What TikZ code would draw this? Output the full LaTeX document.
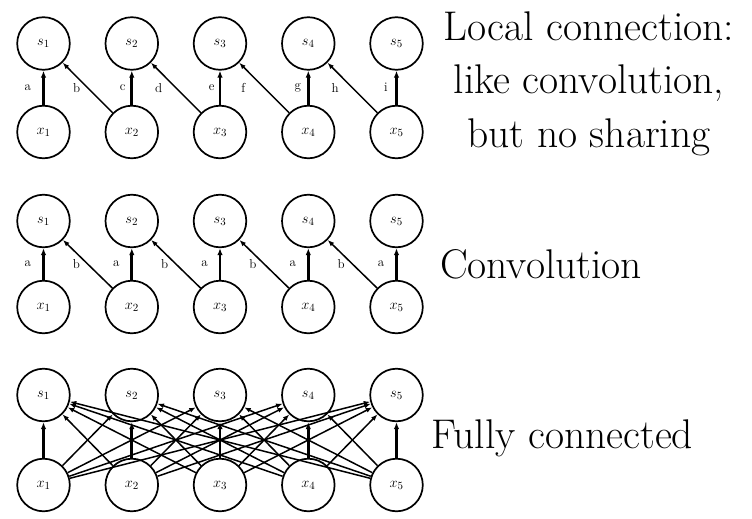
\documentclass[tikz,border=0pt]{standalone}
\usepackage{amsmath, amssymb}
\usepackage{tikz}
\usetikzlibrary{positioning, arrows.meta}

\begin{document}
\begin{tikzpicture}[x=1pt,y=-1pt]
	\tikzstyle{vertex}=[circle,draw=black,line width=1.7pt,minimum size=52.6pt,inner sep=0pt,font=\fontsize{15}{17}\selectfont]
	\tikzstyle{wide}=[line width=2.7pt,-{Latex[length=7pt,width=5.5pt]}]
	\tikzstyle{narrow}=[line width=1.5pt,-{Latex[length=6.5pt,width=5pt]}]
	\tikzstyle{vlbl}=[left=7.7pt,font=\fontsize{13}{15}\selectfont]
	\tikzstyle{dlbl}=[left=3.7pt,font=\fontsize{13}{15}\selectfont]
	\tikzstyle{caption}=[font=\fontsize{41.5}{53.5}\selectfont,align=center,anchor=base]
	\useasboundingbox (0,0) rectangle (752,519);

	% local connection
	\node[vertex](ls1) at (43.5,43.5) {$s_1$};
	\node[vertex](ls2) at (131.8,43.5) {$s_2$};
	\node[vertex](ls3) at (220,43.5) {$s_3$};
	\node[vertex](ls4) at (308.3,43.5) {$s_4$};
	\node[vertex](ls5) at (396.5,43.5) {$s_5$};
	\node[vertex](lx1) at (43.5,132) {$x_1$};
	\node[vertex](lx2) at (131.8,132) {$x_2$};
	\node[vertex](lx3) at (220,132) {$x_3$};
	\node[vertex](lx4) at (308.3,132) {$x_4$};
	\node[vertex](lx5) at (396.5,132) {$x_5$};
	\path
		(lx1) edge[wide] node[vlbl] {a}(ls1)
		(lx2) edge[narrow] node[dlbl,left=3.3pt] {b}(ls1)
		(lx2) edge[wide] node[vlbl,left=1.7pt] {c}(ls2)
		(lx3) edge[narrow] node[dlbl,left=9.7pt] {d}(ls2)
		(lx3) edge[wide] node[vlbl,left=0.7pt] {e}(ls3)
		(lx4) edge[narrow] node[dlbl,left=14.7pt] {f}(ls3)
		(lx4) edge[wide] node[vlbl,left=2.7pt] {g}(ls4)
		(lx5) edge[narrow] node[dlbl,left=9.7pt] {h}(ls4)
		(lx5) edge[wide] node[vlbl,left=4.2pt] {i}(ls5);
	\node[caption](ltext) at (589,147) {Local connection:\\like convolution,\\but no sharing};

	% convolution
	\node[vertex](cs1) at (43.5,221) {$s_1$};
	\node[vertex](cs2) at (131.8,221) {$s_2$};
	\node[vertex](cs3) at (220,221) {$s_3$};
	\node[vertex](cs4) at (308.3,221) {$s_4$};
	\node[vertex](cs5) at (396.5,221) {$s_5$};
	\node[vertex](cx1) at (43.5,307) {$x_1$};
	\node[vertex](cx2) at (131.8,307) {$x_2$};
	\node[vertex](cx3) at (220,307) {$x_3$};
	\node[vertex](cx4) at (308.3,307) {$x_4$};
	\node[vertex](cx5) at (396.5,307) {$x_5$};
	\path
		(cx1) edge[wide] node[vlbl] {a}(cs1)
		(cx2) edge[narrow] node[dlbl] {b}(cs1)
		(cx2) edge[wide] node[vlbl] {a}(cs2)
		(cx3) edge[narrow] node[dlbl] {b}(cs2)
		(cx3) edge[wide] node[vlbl] {a}(cs3)
		(cx4) edge[narrow] node[dlbl] {b}(cs3)
		(cx4) edge[wide] node[vlbl] {a}(cs4)
		(cx5) edge[narrow] node[dlbl] {b}(cs4)
		(cx5) edge[wide] node[vlbl] {a}(cs5);
	\node[caption](ctext) at (541,278) {Convolution};

	% fully connected
	\node[vertex](fs1) at (43.5,395) {$s_1$};
	\node[vertex](fs2) at (131.8,395) {$s_2$};
	\node[vertex](fs3) at (220,395) {$s_3$};
	\node[vertex](fs4) at (308.3,395) {$s_4$};
	\node[vertex](fs5) at (396.5,395) {$s_5$};
	\node[vertex](fx1) at (43.5,485) {$x_1$};
	\node[vertex](fx2) at (131.8,485) {$x_2$};
	\node[vertex](fx3) at (220,485) {$x_3$};
	\node[vertex](fx4) at (308.3,485) {$x_4$};
	\node[vertex](fx5) at (396.5,485) {$x_5$};
	\path
		(fx1) edge[wide] (fs1)
		(fx1) edge[narrow] (fs2)
		(fx1) edge[narrow] (fs3)
		(fx1) edge[narrow] (fs4)
		(fx1) edge[narrow] (fs5)

		(fx2) edge[narrow] (fs1)
		(fx2) edge[wide] (fs2)
		(fx2) edge[narrow] (fs3)
		(fx2) edge[narrow] (fs4)
		(fx2) edge[narrow] (fs5)

		(fx3) edge[narrow] (fs1)
		(fx3) edge[narrow] (fs2)
		(fx3) edge[wide] (fs3)
		(fx3) edge[narrow] (fs4)
		(fx3) edge[narrow] (fs5)

		(fx4) edge[narrow] (fs1)
		(fx4) edge[narrow] (fs2)
		(fx4) edge[narrow] (fs3)
		(fx4) edge[wide] (fs4)
		(fx4) edge[narrow] (fs5)

		(fx5) edge[narrow] (fs1)
		(fx5) edge[narrow] (fs2)
		(fx5) edge[narrow] (fs3)
		(fx5) edge[narrow] (fs4)
		(fx5) edge[wide] (fs5);
	\node[caption](ftext) at (562.5,448) {Fully connected};
\end{tikzpicture}
\end{document}
